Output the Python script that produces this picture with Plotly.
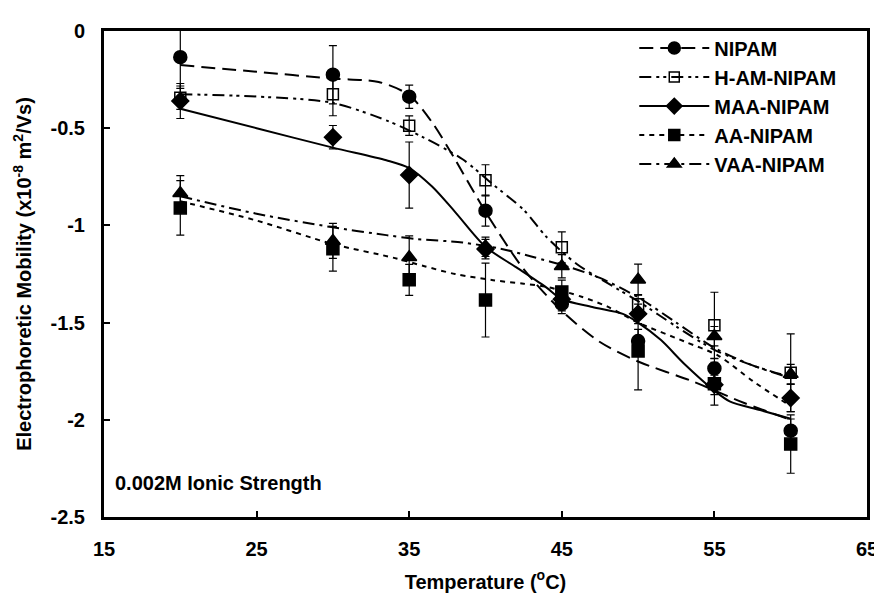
import plotly.graph_objects as go

# ---------------- data ----------------
temps = [20, 30, 35, 40, 45, 50, 55, 60]

nipam = [-0.135, -0.225, -0.338, -0.924, -1.404, -1.595, -1.736, -2.056]
nipam_err = [0.16, 0.15, 0.06, 0.08, 0.05, 0.06, 0.05, 0.06]

ham = [-0.343, -0.326, -0.487, -0.768, -1.113, -1.406, -1.514, -1.758]
ham_err = [0.06, 0.11, 0.05, 0.08, 0.08, 0.05, 0.17, 0.20]

maa = [-0.36, -0.546, -0.741, -1.122, -1.38, -1.455, -1.82, -1.888]
maa_err = [0.09, 0.06, 0.17, 0.05, 0.06, 0.05, 0.05, 0.07]

aa = [-0.91, -1.12, -1.28, -1.384, -1.342, -1.646, -1.814, -2.125]
aa_err = [0.14, 0.115, 0.08, 0.19, 0.06, 0.20, 0.11, 0.15]

vaa = [-0.834, -1.08, -1.164, -1.11, -1.21, -1.279, -1.57, -1.765]
vaa_err = [0.09, 0.09, 0.11, 0.05, 0.06, 0.08, 0.05, 0.05]

# trend (fit) curves
nipam_fit_t = [20, 25, 30, 33, 35, 36.5, 38, 40, 42.5, 45, 47.5, 50, 53.5, 57, 60]
nipam_fit = [-0.175, -0.21, -0.245, -0.262, -0.33, -0.47, -0.66, -0.93, -1.225,
             -1.44, -1.60, -1.70, -1.80, -1.915, -2.0]

ham_fit_t = [20, 25, 30, 33.5, 36, 38.5, 40.5, 42.5, 44, 46, 48.5, 50, 52.5, 55, 57.5, 60]
ham_fit = [-0.325, -0.337, -0.37, -0.46, -0.55, -0.66, -0.79, -0.92, -1.06, -1.20,
           -1.32, -1.39, -1.52, -1.64, -1.72, -1.78]

maa_fit_t = [20, 25, 30, 33.5, 35, 36.5, 38, 40, 42, 44, 45, 47, 49, 50, 51.5, 53, 55,
             56, 58, 60]
maa_fit = [-0.40, -0.50, -0.60, -0.665, -0.705, -0.80, -0.93, -1.11, -1.215, -1.32,
           -1.38, -1.42, -1.455, -1.50, -1.59, -1.71, -1.85, -1.905, -1.95, -1.995]

aa_fit_t = [20, 25, 30, 34, 36, 38, 40.5, 42.5, 44, 46.3, 48, 50, 53, 55.3, 57.5, 60]
aa_fit = [-0.876, -0.975, -1.096, -1.167, -1.21, -1.25, -1.282, -1.30, -1.316, -1.367,
          -1.418, -1.50, -1.596, -1.672, -1.80, -1.93]

vaa_fit_t = [20, 25, 30, 33.5, 35.5, 38.5, 41, 43, 45.5, 47.5, 50, 52.5, 55, 57.5, 60]
vaa_fit = [-0.85, -0.94, -1.01, -1.05, -1.07, -1.088, -1.12, -1.16, -1.215, -1.27,
           -1.37, -1.50, -1.63, -1.72, -1.785]

names = ["NIPAM", "H-AM-NIPAM", "MAA-NIPAM", "AA-NIPAM", "VAA-NIPAM"]

x_ticks = [15, 25, 35, 45, 55, 65]
y_ticks = [0, -0.5, -1, -1.5, -2, -2.5]
y_ticktext = ["0", "-0.5", "-1", "-1.5", "-2", "-2.5"]

# ---------------- styles ----------------
FONT = "Liberation Sans, Arial, Helvetica, sans-serif"
FS = 20
series = [
    (names[0], nipam, nipam_err, nipam_fit_t, nipam_fit, "14px,7px", "circle", 13),
    (names[1], ham, ham_err, ham_fit_t, ham_fit, "12px,5px,3px,4px,3px,5px", "square-open", 11),
    (names[2], maa, maa_err, maa_fit_t, maa_fit, "solid", "diamond", 13),
    (names[3], aa, aa_err, aa_fit_t, aa_fit, "5px,5px", "square", 12),
    (names[4], vaa, vaa_err, vaa_fit_t, vaa_fit, "12px,5px,3px,5px", "triangle-up", 13),
]

fig = go.Figure()

for i, (name, y, err, ft, fy, dash, sym, ms) in enumerate(series):
    fig.add_trace(go.Scatter(
        x=ft, y=fy, mode="lines", line=dict(color="black", width=2, dash=dash,
                                             shape="spline", smoothing=0.8),
        showlegend=False, hoverinfo="skip"))
    fig.add_trace(go.Scatter(
        x=temps, y=y, mode="markers",
        marker=dict(symbol=sym, size=ms, color="black",
                    line=dict(color="black", width=1.5)),
        error_y=dict(type="data", array=err, visible=True, color="black",
                     thickness=1.2, width=4),
        showlegend=False))

# legend entries (line + marker samples)
for i, (name, y, err, ft, fy, dash, sym, ms) in enumerate(series):
    fig.add_trace(go.Scatter(
        x=[None], y=[None], mode="lines+markers", name=name,
        line=dict(color="black", width=2, dash=dash),
        marker=dict(symbol=sym, size=ms - 1, color="black",
                    line=dict(color="black", width=1.5))))

fig.add_annotation(
    x=0.012, y=0.07, xref="paper", yref="paper", xanchor="left", yanchor="middle",
    text="0.002M Ionic Strength", showarrow=False,
    font=dict(family=FONT, size=FS, color="black", weight="bold"))

axis_common = dict(
    showgrid=False, zeroline=False, showline=True, linecolor="black", linewidth=3,
    mirror=True, ticks="inside", ticklen=6, tickwidth=2, tickcolor="black",
    tickfont=dict(family=FONT, size=FS, color="black", weight="bold"),
)

fig.update_layout(
    width=882, height=594,
    margin=dict(l=96, r=12, t=21, b=81),
    paper_bgcolor="white", plot_bgcolor="white",
    font=dict(family=FONT, color="black"),
    xaxis=dict(range=[15, 65], tickvals=x_ticks, ticklabelstandoff=12,
               title=dict(text="Temperature (<sup>o</sup>C)", standoff=16,
                          font=dict(family=FONT, size=FS, color="black", weight="bold")),
               **axis_common),
    yaxis=dict(range=[-2.5, 0], tickvals=y_ticks, ticktext=y_ticktext,
               ticklabelstandoff=12,
               title=dict(text="Electrophoretic Mobility (x10<sup>-8</sup> m<sup>2</sup>/Vs)",
                          standoff=14,
                          font=dict(family=FONT, size=FS, color="black", weight="bold")),
               **axis_common),
    legend=dict(x=0.695, y=1.005, xanchor="left", yanchor="top",
                bgcolor="rgba(0,0,0,0)", borderwidth=0, itemwidth=70,
                tracegroupgap=0,
                font=dict(family=FONT, size=FS, color="black", weight="bold")),
)

fig.write_html("out.html")
